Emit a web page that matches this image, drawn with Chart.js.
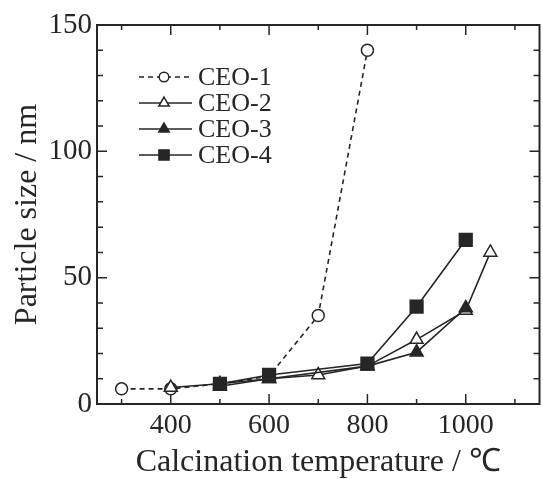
<!DOCTYPE html>
<html><head><meta charset="utf-8">
<script src="https://cdn.jsdelivr.net/npm/chart.js@4/dist/chart.umd.min.js"></script>
<style>
html,body{margin:0;padding:0;background:#fff;overflow:hidden;width:543px;height:479px;}
#wrap{position:relative;width:550px;height:479px;}
</style></head>
<body>
<div id="wrap"><canvas id="c" width="550" height="479"></canvas></div>
<script>
// ---- data ----
const seriesNames = ['CEO-1','CEO-2','CEO-3','CEO-4'];
const ceo1Temps = [300,400,500,600,700,800];
const ceo1Sizes = [6,6,8,11,35,140];
const ceo2Temps = [400,500,600,700,800,900,1000,1050];
const ceo2Sizes = [6.5,8,10,11.5,15,25.5,37,60];
const ceo3Temps = [500,600,800,900,1000];
const ceo3Sizes = [7,10,15,20.5,38];
const ceo4Temps = [500,600,800,900,1000];
const ceo4Sizes = [8,11.5,16,38.5,65];
const xTickLabels = [400,600,800,1000];
const yTickLabels = [0,50,100,150];

const FONT = "'Liberation Serif','Times New Roman',serif";
const INK = '#262626';
const pts = (t,v)=>t.map((x,i)=>({x:x,y:v[i]}));

const styles = [
  {pointStyle:'circle', fill:'#fff', radius:6, dash:[5,4]},
  {pointStyle:'triangle', fill:'#fff', radius:7.5, dash:[]},
  {pointStyle:'triangle', fill:INK, radius:7.5, dash:[]},
  {pointStyle:'rect', fill:INK, radius:9, dash:[]}
];
const allData = [pts(ceo1Temps,ceo1Sizes),pts(ceo2Temps,ceo2Sizes),pts(ceo3Temps,ceo3Sizes),pts(ceo4Temps,ceo4Sizes)];
const datasets = seriesNames.map((n,i)=>({
  label:n, data:allData[i], borderColor:INK, borderWidth:1.6, borderDash:styles[i].dash,
  pointStyle:styles[i].pointStyle, pointRadius:styles[i].radius, pointBackgroundColor:styles[i].fill,
  pointBorderColor:INK, pointBorderWidth:1.5, fill:false, tension:0, order:3-i
}));

const framePlugin = {
  id:'frame',
  beforeDatasetsDraw(chart){
    const {ctx, chartArea:a, scales:{x,y}} = chart;
    ctx.save();
    ctx.strokeStyle = INK; ctx.lineWidth = 2;
    ctx.strokeRect(a.left,a.top,a.right-a.left,a.bottom-a.top);
    ctx.lineWidth = 1.5;
    ctx.beginPath();
    for(let v=300; v<=1100; v+=100){
      const px = x.getPixelForValue(v), len = (v%200===0)?10:5;
      ctx.moveTo(px,a.bottom); ctx.lineTo(px,a.bottom-len);
      ctx.moveTo(px,a.top); ctx.lineTo(px,a.top+len);
    }
    for(let v=10; v<150; v+=10){
      const py = y.getPixelForValue(v), len = (v%50===0)?10:6;
      ctx.moveTo(a.left,py); ctx.lineTo(a.left+len,py);
      ctx.moveTo(a.right,py); ctx.lineTo(a.right-len,py);
    }
    ctx.stroke();
    ctx.restore();
  },
  afterDraw(chart){
    const ctx = chart.ctx;
    ctx.save();
    const rows = [77,103,129,155];
    chart.data.datasets.forEach((ds,i)=>{
      const yy = rows[i];
      ctx.strokeStyle = INK; ctx.lineWidth = 1.5;
      ctx.setLineDash(ds.borderDash||[]);
      ctx.beginPath(); ctx.moveTo(139,yy); ctx.lineTo(192,yy); ctx.stroke();
      ctx.setLineDash([]);
      ctx.fillStyle = ds.pointBackgroundColor; ctx.strokeStyle = INK; ctx.lineWidth = 1.5;
      Chart.helpers.drawPoint(ctx,{pointStyle:ds.pointStyle, radius:ds.pointRadius*0.8, borderWidth:1.5}, 164, yy);
      ctx.fillStyle = INK; ctx.font = "26px "+FONT; ctx.textBaseline='middle'; ctx.textAlign='left';
      ctx.fillText(ds.label, 198, yy+1);
    });
    ctx.restore();
  }
};

new Chart(document.getElementById('c'),{
  type:'line',
  data:{datasets},
  options:{
    responsive:false, animation:false,
    layout:{padding:{top:25,right:3,left:0,bottom:0}},
    plugins:{legend:{display:false}, tooltip:{enabled:false}},
    scales:{
      x:{type:'linear', min:250, max:1150,
        afterBuildTicks(s){ s.ticks = xTickLabels.map(v=>({value:v})); },
        afterFit(s){ s.height = 75; },
        grid:{display:false, drawTicks:false}, border:{display:false},
        ticks:{autoSkip:false, maxRotation:0, padding:5, color:INK,
          font:{family:FONT,size:28},
          callback:v=>String(v)},
        title:{display:true, text:'Calcination temperature / ℃', color:INK,
          font:{family:FONT,size:32,lineHeight:1}, padding:{top:0,bottom:0}}
      },
      y:{min:0, max:150,
        afterBuildTicks(s){ s.ticks = yTickLabels.map(v=>({value:v})); },
        afterFit(s){ s.width = 97; },
        grid:{display:false, drawTicks:false}, border:{display:false},
        ticks:{autoSkip:false, padding:5, color:INK,
          font:{family:FONT,size:29},
          callback:v=>String(v)},
        title:{display:true, text:'Particle size / nm', color:INK,
          font:{family:FONT,size:32}, padding:{top:8,bottom:0}}
      }
    }
  },
  plugins:[framePlugin]
});
</script>
</body></html>
